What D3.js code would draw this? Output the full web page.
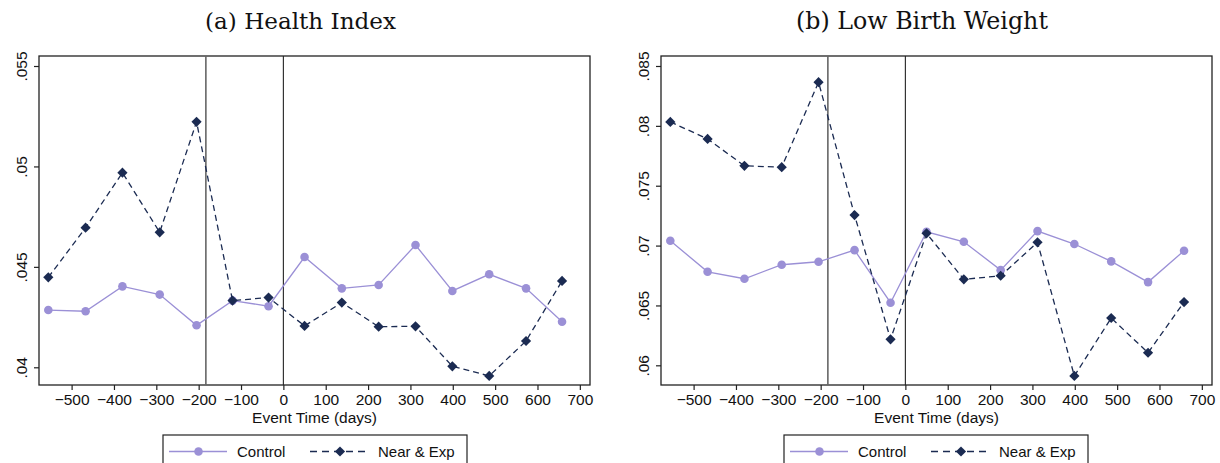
<!DOCTYPE html>
<html><head><meta charset="utf-8">
<script src="https://cdn.jsdelivr.net/npm/d3@7"></script>
<style>body{margin:0;background:#fff}svg{display:block}</style>
</head><body>
<svg id="c" width="1220" height="463"></svg>
<script>
const eventDays = [-555, -467, -380, -292, -205, -120, -35, 50, 138, 225, 312, 399, 486, 573, 658];
const healthControl = [.04285, .04279, .04403, .04362, .04209, .04332, .04304, .04549, .04393, .0441, .04609, .0438, .04463, .04393, .04227];
const healthNear = [.04448, .04695, .04969, .04672, .05222, .04332, .04347, .04206, .04322, .04202, .04204, .04005, .03957, .04131, .0443];
const lbwControl = [.0704, .06781, .06723, .0684, .06865, .06962, .06523, .07115, .07032, .06795, .07121, .07013, .06868, .06695, .06957];
const lbwNear = [.08033, .07891, .07666, .07655, .08365, .07255, .06217, .07102, .06718, .06748, .07027, .05911, .06395, .06105, .06528];
const xTicks = [-500, -400, -300, -200, -100, 0, 100, 200, 300, 400, 500, 600, 700];
const healthYTicks = [.04, .045, .05, .055];
const lbwYTicks = [.06, .065, .07, .075, .08, .085];
const vLines = [-183, 0];
const seriesNames = ["Control", "Near & Exp"];
const titles = ["(a) Health Index", "(b) Low Birth Weight"];
const xTitle = "Event Time (days)";

const ctrlColor = "#9b90d6", nearColor = "#1b2b52";
const svg = d3.select("#c");
const fmt = v => d3.format(".3~f")(v).replace(/^0/, "");
const FS = 15.5;

function panel(opt) {
  const g = svg.append("g");
  const x = d3.scaleLinear().domain([-577, 724]).range([opt.left, opt.right]);
  const y = d3.scaleLinear().domain(opt.yDomain).range([opt.bottom, opt.top]);
  // title
  const t = g.append("text").attr("x", opt.titleX).attr("y", 29).attr("text-anchor", "middle")
    .attr("font-family", "DejaVu Serif").attr("font-size", 20).attr("fill", "#111").text(opt.title);
  const w = t.node().getComputedTextLength();
  t.attr("font-size", 20 * opt.titleW / w);
  // frame
  g.append("rect").attr("x", opt.left).attr("y", opt.top).attr("width", opt.right - opt.left)
    .attr("height", opt.bottom - opt.top).attr("fill", "none").attr("stroke", "#222").attr("stroke-width", 1.3);
  // axes
  const xa = g.append("g").attr("transform", `translate(0,${opt.bottom})`)
    .call(d3.axisBottom(x).tickValues(xTicks).tickSize(5).tickPadding(4).tickFormat(d => d < 0 ? "\u2212" + (-d) : d));
  xa.select(".domain").remove();
  xa.selectAll("line").attr("stroke", "#222").attr("stroke-width", 1.2);
  xa.selectAll("text").attr("font-family", "Liberation Sans").attr("font-size", FS).attr("fill", "#111");
  const ya = g.append("g").attr("transform", `translate(${opt.left},0)`)
    .call(d3.axisLeft(y).tickValues(opt.yTicks).tickSize(5).tickFormat(fmt));
  ya.select(".domain").remove();
  ya.selectAll("line").attr("stroke", "#222").attr("stroke-width", 1.2);
  ya.selectAll("text").attr("font-family", "Liberation Sans").attr("font-size", FS).attr("fill", "#111")
    .attr("text-anchor", "middle").attr("x", null).attr("dy", null).attr("y", null)
    .attr("transform", "translate(-12,0) rotate(-90)");
  // x title
  g.append("text").attr("x", (opt.left + opt.right) / 2).attr("y", 423).attr("text-anchor", "middle")
    .attr("font-family", "Liberation Sans").attr("font-size", FS).attr("fill", "#111").text(xTitle);
  // vertical lines
  g.selectAll(".vl").data(vLines).join("line")
    .attr("x1", d => x(d)).attr("x2", d => x(d)).attr("y1", opt.top).attr("y2", opt.bottom)
    .attr("stroke", d => d === 0 ? "#222" : "#666").attr("stroke-width", d => d === 0 ? 1.1 : 1.6);
  const line = d3.line().x((d, i) => x(eventDays[i])).y(d => y(d));
  // control
  g.append("path").attr("d", line(opt.ctrl)).attr("fill", "none").attr("stroke", ctrlColor).attr("stroke-width", 1.3);
  g.selectAll(".cc").data(opt.ctrl).join("circle").attr("cx", (d, i) => x(eventDays[i])).attr("cy", d => y(d))
    .attr("r", 4.3).attr("fill", ctrlColor);
  // near
  g.append("path").attr("d", line(opt.near)).attr("fill", "none").attr("stroke", nearColor)
    .attr("stroke-width", 1.3).attr("stroke-dasharray", "6,4");
  const diamond = d3.symbol().type(d3.symbolSquare).size(52);
  g.selectAll(".dd").data(opt.near).join("path")
    .attr("d", diamond).attr("fill", nearColor)
    .attr("transform", (d, i) => `translate(${x(eventDays[i])},${y(d)}) rotate(45)`);
  // legend
  const L = opt.legendX;
  const lg = g.append("g");
  lg.append("rect").attr("x", L).attr("y", 435).attr("width", opt.legendW).attr("height", 40)
    .attr("fill", "none").attr("stroke", "#222").attr("stroke-width", 1.2);
  lg.append("line").attr("x1", L + 6).attr("x2", L + 64).attr("y1", 451.5).attr("y2", 451.5)
    .attr("stroke", ctrlColor).attr("stroke-width", 1.3);
  lg.append("circle").attr("cx", L + 35.5).attr("cy", 451.5).attr("r", 4.3).attr("fill", ctrlColor);
  lg.append("text").attr("x", L + 74).attr("y", 457).attr("font-family", "Liberation Sans").attr("font-size", 15)
    .attr("fill", "#111").text(seriesNames[0]);
  lg.append("line").attr("x1", L + 147).attr("x2", L + 206).attr("y1", 451.5).attr("y2", 451.5)
    .attr("stroke", nearColor).attr("stroke-width", 1.3).attr("stroke-dasharray", "7,5");
  lg.append("path").attr("d", diamond).attr("fill", nearColor).attr("transform", `translate(${L + 177},451.5) rotate(45)`);
  lg.append("text").attr("x", L + 215).attr("y", 457).attr("font-family", "Liberation Sans").attr("font-size", 15)
    .attr("fill", "#111").text(seriesNames[1]);
}

panel({left: 39, right: 590, top: 56, bottom: 385, yDomain: [.04 - (385 - 367.3) / 100.4 * .005, .055 + (66 - 56) / 100.4 * .005],
  yTicks: healthYTicks, ctrl: healthControl, near: healthNear, title: titles[0], titleX: 300.5, titleW: 191, legendX: 163, legendW: 304});
panel({left: 661, right: 1212, top: 56, bottom: 385, yDomain: [.06 - (385 - 365.3) / 59.9 * .005, .085 + (66 - 56) / 59.9 * .005],
  yTicks: lbwYTicks, ctrl: lbwControl, near: lbwNear, title: titles[1], titleX: 922, titleW: 252, legendX: 784, legendW: 304});
</script>
</body></html>
